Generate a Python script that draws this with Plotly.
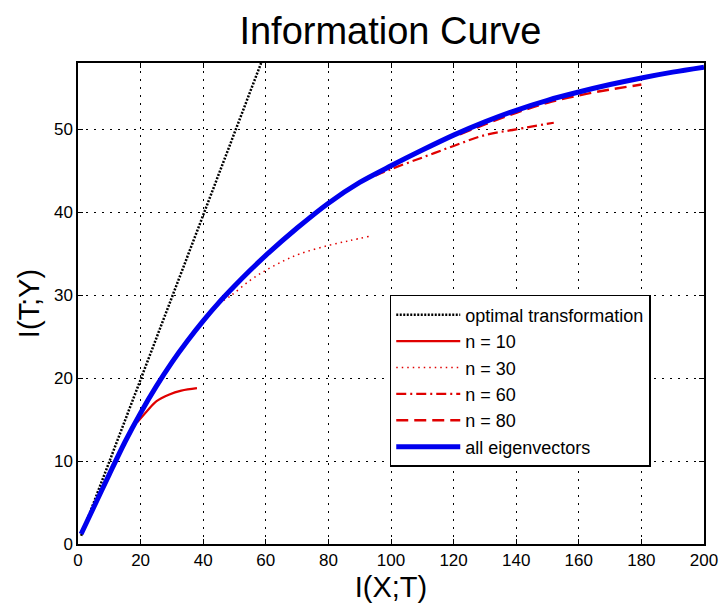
import plotly.graph_objects as go

# ---- data ----
opt_x = [1, 58.5]
opt_y = [1, 58]

n10_x = [19, 22, 25, 29, 33, 38]
n10_y = [14.7, 16, 17.2, 18, 18.5, 18.8]

n30_x = [45, 49, 55, 60, 66, 71, 80, 87, 93]
n30_y = [29, 30, 31.8, 33, 34.2, 35, 36, 36.6, 37.1]

n60_x = [95, 100, 110, 120, 130, 140, 152]
n60_y = [44.4, 45.2, 46.6, 48, 49.3, 50, 50.8]

n80_x = [122, 130, 140, 150, 160, 170, 180]
n80_y = [49.4, 50.6, 52, 53.2, 54.1, 54.8, 55.4]

all_x = [1, 5, 10, 15, 20, 25, 30, 35, 40, 45, 50, 55, 60, 70, 80, 90, 100,
         110, 120, 130, 140, 150, 160, 170, 180, 190, 200]
all_y = [1.2, 4.4, 8.4, 12.3, 15.8, 19.0, 21.9, 24.5, 26.9, 29.1, 31.1, 33.0,
         34.8, 38.1, 41.1, 43.6, 45.6, 47.5, 49.3, 50.9, 52.3, 53.5, 54.5,
         55.4, 56.2, 56.9, 57.5]

x_ticks = [0, 20, 40, 60, 80, 100, 120, 140, 160, 180, 200]
y_ticks = [0, 10, 20, 30, 40, 50]

RED = "#e00000"
BLUE = "#0000ee"
FONT = "Liberation Sans"

fig = go.Figure()
fig.add_trace(go.Scatter(x=opt_x, y=opt_y, mode="lines", name="optimal transformation",
                         legendgroup="a",
                         line=dict(color="black", width=2.5, dash="2px,1.5px")))
fig.add_trace(go.Scatter(x=n10_x, y=n10_y, mode="lines", name="n = 10", legendgroup="b",
                         line=dict(color=RED, width=2.2, shape="spline")))
fig.add_trace(go.Scatter(x=n30_x, y=n30_y, mode="lines", name="n = 30", legendgroup="c",
                         line=dict(color=RED, width=1.5, shape="spline", dash="1.5px,4px")))
fig.add_trace(go.Scatter(x=n60_x, y=n60_y, mode="lines", name="n = 60", legendgroup="d",
                         line=dict(color=RED, width=2.2, shape="spline",
                                   dash="10px,4px,2px,4px")))
fig.add_trace(go.Scatter(x=n80_x, y=n80_y, mode="lines", name="n = 80", legendgroup="e",
                         line=dict(color=RED, width=2.5, shape="spline", dash="12px,6px")))
fig.add_trace(go.Scatter(x=all_x, y=all_y, mode="lines", name="all eigenvectors",
                         legendgroup="f",
                         line=dict(color=BLUE, width=5, shape="spline", smoothing=0.8)))

axis_common = dict(
    showline=True, linecolor="black", linewidth=1.5, mirror="ticks",
    ticks="inside", ticklen=5, tickcolor="black", automargin=False,
    showgrid=True, gridcolor="black", gridwidth=1, griddash="2px,6px",
    zeroline=False, tickfont=dict(family=FONT, size=17, color="black"),
)

fig.update_layout(
    width=723, height=613,
    margin=dict(l=78, r=19, t=63, b=69),
    paper_bgcolor="white", plot_bgcolor="white",
    font=dict(family=FONT, color="black"),
    title=dict(text="Information Curve", x=0.54, xanchor="center",
               y=1 - 31 / 613, yanchor="middle", yref="container",
               font=dict(family=FONT, size=38, color="black"), automargin=False),
    xaxis=dict(range=[0, 200], tickvals=x_ticks,
               title=dict(text="I(X;T)", font=dict(family=FONT, size=29), standoff=8),
               **axis_common),
    yaxis=dict(range=[0, 58], tickvals=y_ticks,
               title=dict(text="I(T;Y)", font=dict(family=FONT, size=29), standoff=6),
               **axis_common),
    legend=dict(x=0.498, y=0.5177, xanchor="left", yanchor="top",
                bgcolor="white", bordercolor="black", borderwidth=1.5,
                font=dict(family=FONT, size=18, color="black"),
                itemwidth=64, tracegroupgap=0, traceorder="grouped"),
    showlegend=True,
)

fig.write_html("out.html")
